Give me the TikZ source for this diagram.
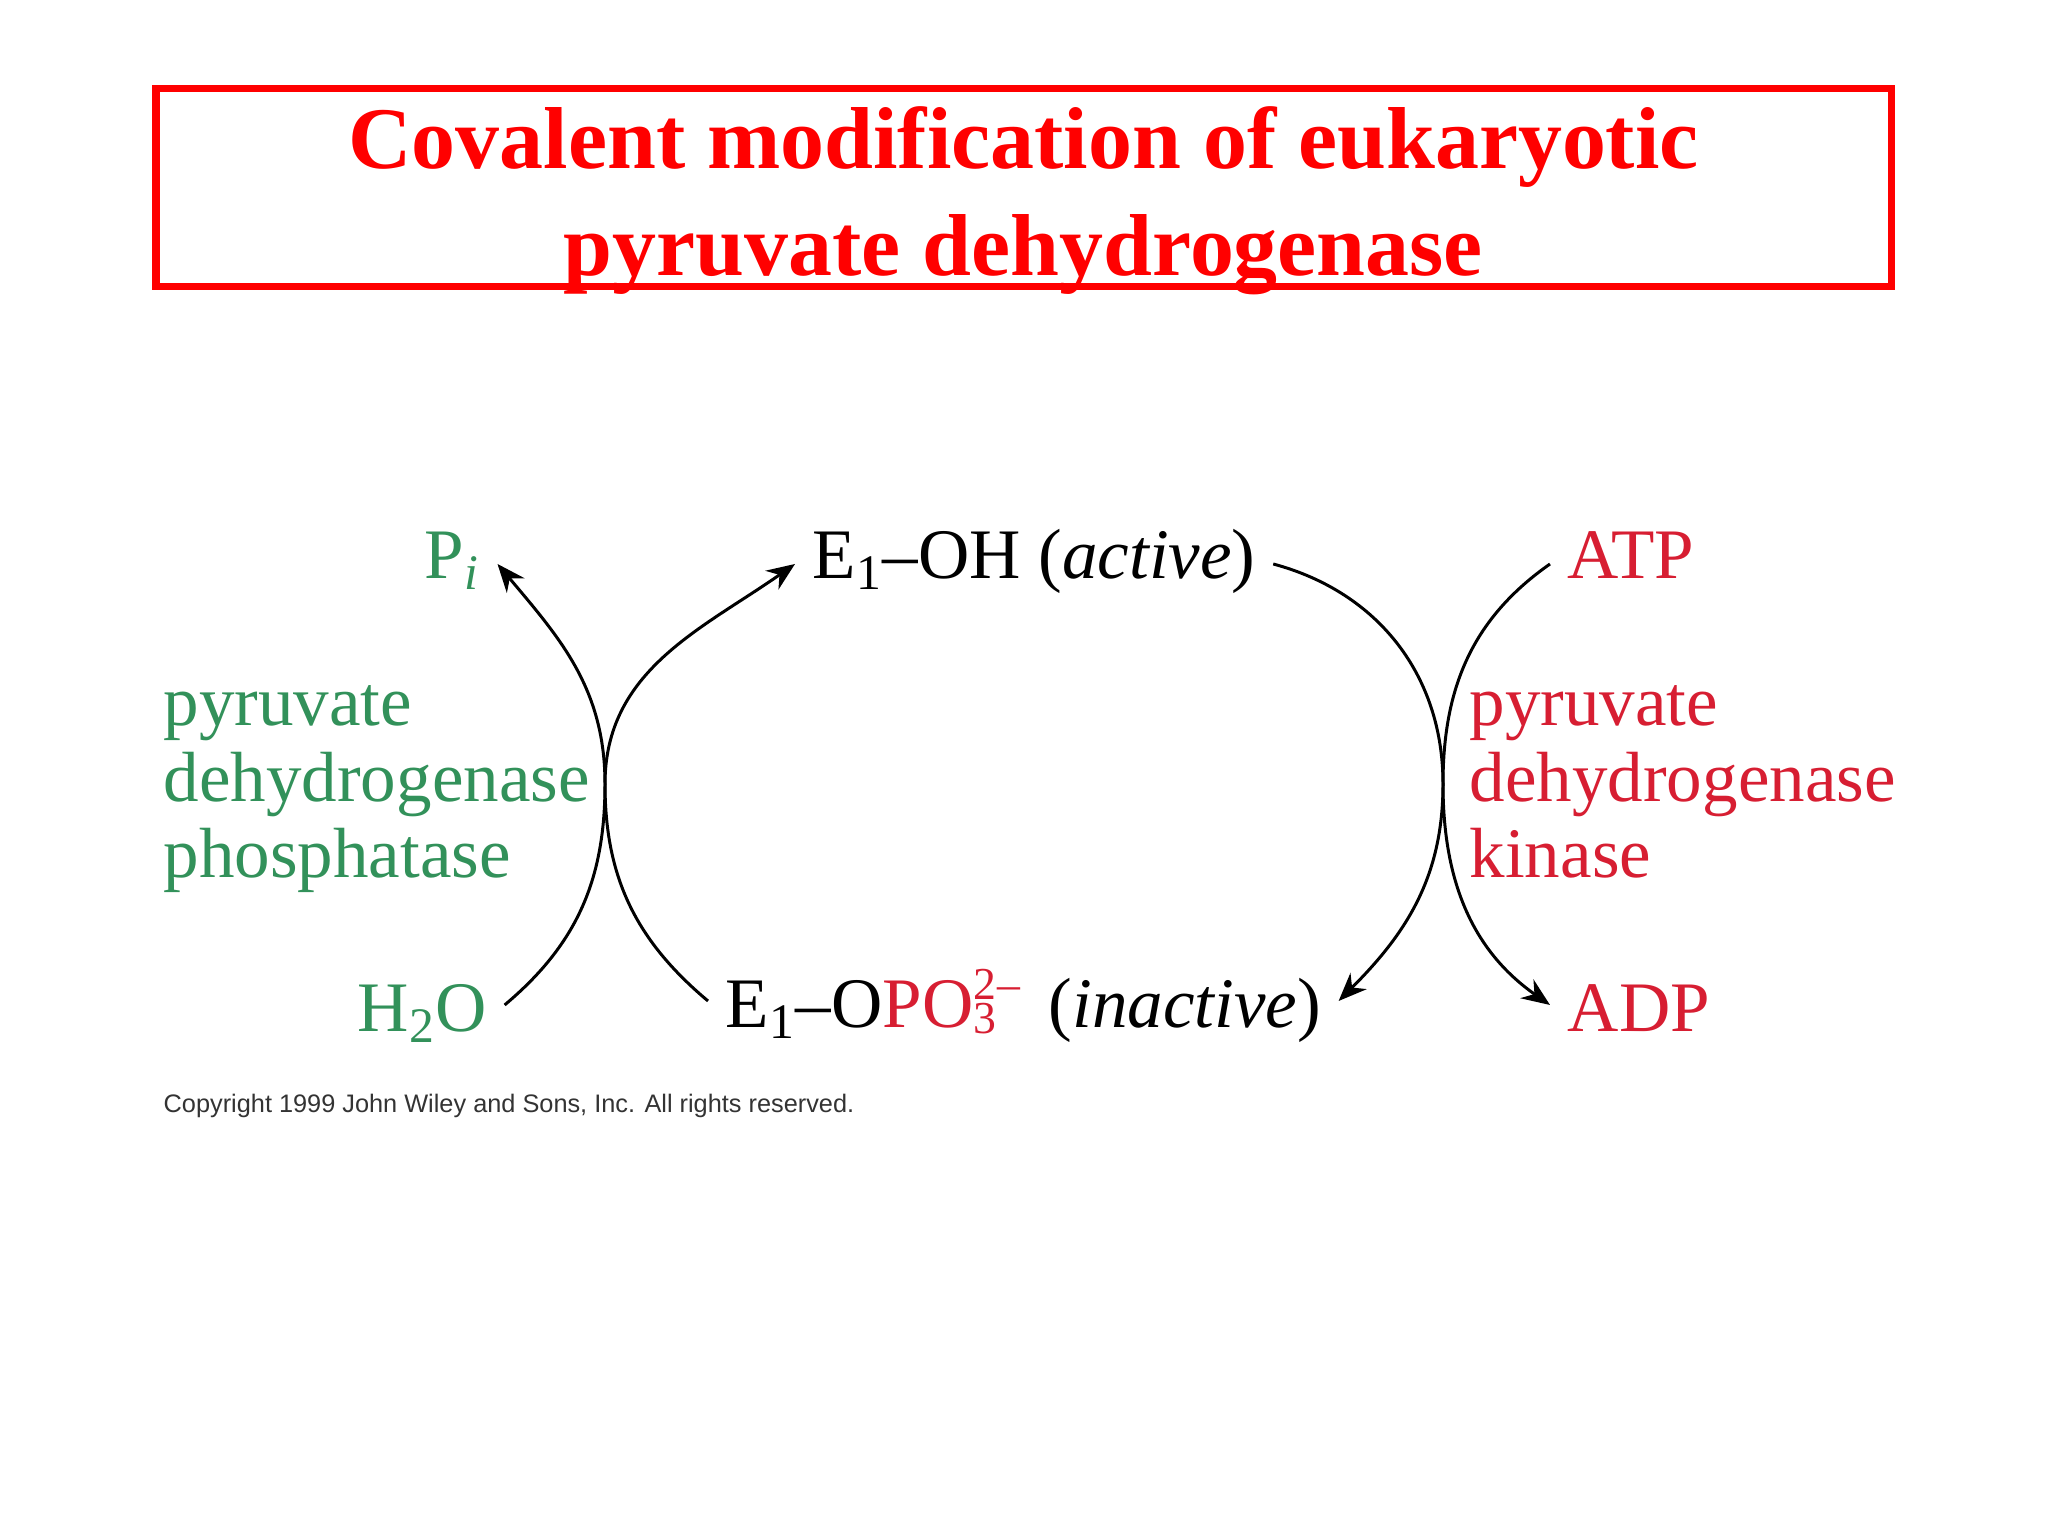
\documentclass[tikz,border=0pt]{standalone}
\usepackage{fontspec}
\setmainfont{Liberation Serif}
\newfontfamily\copyfont{Liberation Sans}
\usetikzlibrary{arrows.meta}
\definecolor{pdhgreen}{RGB}{50,145,90}
\definecolor{pdhred}{RGB}{215,30,50}
\definecolor{titlered}{RGB}{255,0,0}
\newcommand{\phosph}{PO\makebox[0.34em][l]{\fontsize{13}{13}\selectfont\raisebox{-1.5pt}{3}\llap{\raisebox{8pt}{2}}}\raisebox{8pt}{\fontsize{13}{13}\selectfont--}}
\begin{document}
\begin{tikzpicture}[x=0.01cm,y=0.01cm,
        lbl/.style={font=\fontsize{20.2}{21.6}\selectfont, inner xsep=0.17cm, inner ysep=0pt,
            text height=0.3cm, text depth=0pt, anchor=base west},
        low/.style={lbl, text height=0.54cm},
        enzyme/.style={font=\fontsize{20.2}{21.6}\selectfont, inner sep=0pt, align=left, anchor=north west},
        rxn/.style={line width=0.85pt, -{Stealth[length=8pt,width=6.5pt]}}]
        \useasboundingbox (0,0) rectangle (2048,1536);
        \node[draw=titlered, line width=2pt, minimum width=17.34cm, minimum height=1.98cm] (titlebox) at (1023.5,1348.5) {};
        \node[text=titlered, font=\fontsize{25}{30.4}\selectfont\bfseries, align=center, anchor=north, inner sep=0pt] (title) at (1023.5,1430)
            {Covalent modification of eukaryotic\\pyruvate dehydrogenase};
        % top row
        \node[lbl, text=pdhgreen] (pi) at (407,957) {P\textsubscript{\textit{i}}};
        \node[lbl] (act) at (795,957) {E\textsubscript{1}--OH (\textit{active})};
        \node[lbl, text=pdhred] (atp) at (1550,957) {ATP};
        % bottom row
        \node[low, text=pdhgreen] (h2o) at (340,504) {H\textsubscript{2}O};
        \node[low] (inact) at (708,508)
            {E\textsubscript{1}--O\textcolor{pdhred}{\phosph}\hspace{0.15em} (\textit{inactive})};
        \node[low, text=pdhred] (adp) at (1550,504) {ADP};
        % enzymes
        \node[enzyme, text=pdhgreen] (ptase) at (163,851) {pyruvate\\dehydrogenase\\phosphatase};
        \node[enzyme, text=pdhred] (kinase) at (1469,851) {pyruvate\\dehydrogenase\\kinase};
        \node[anchor=base west, inner sep=0pt, text=black!80, font=\copyfont\fontsize{7.2}{8}\selectfont] (copy) at (163,423)
            {Copyright 1999 John Wiley and Sons, Inc. All rights reserved.};
        % arrows
        \coordinate (lx) at (605,752);
        \coordinate (rx) at (1443,752);
        \draw[rxn] (h2o.east) to[out=40,in=-90] (lx) to[out=90,in=-50] (pi.east);
        \draw[rxn] (inact.west) to[out=140,in=-90] (lx) to[out=90,in=215] (act.west);
        \draw[rxn] (act.east) to[out=-15,in=90] (rx) to[out=-90,in=45] (inact.east);
        \draw[rxn] (atp.west) to[out=215,in=90] (rx) to[out=-90,in=145] (adp.west);
    \end{tikzpicture}
\end{document}
